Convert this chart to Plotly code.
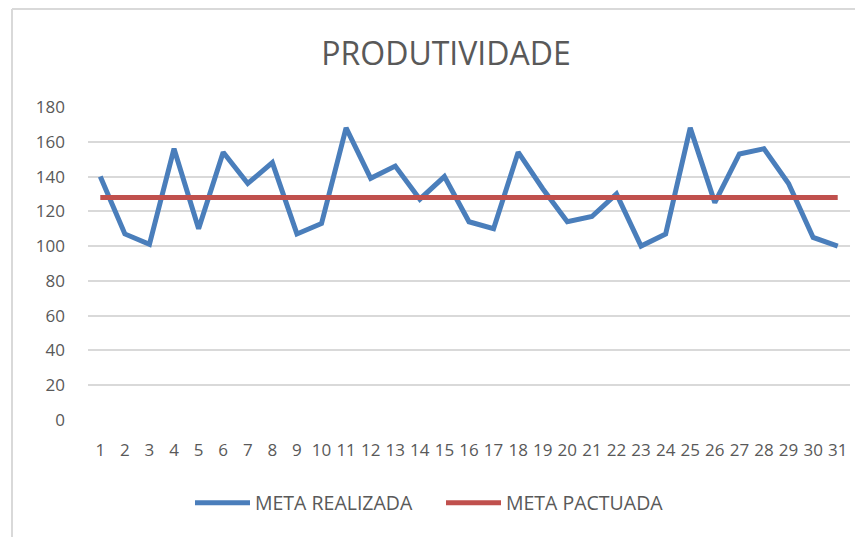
import plotly.graph_objects as go

days = [str(d) for d in range(1, 32)]
meta_realizada = [140, 107, 101, 156, 110, 154, 136, 148, 107, 113, 168, 139, 146, 127, 140, 114,
                  110, 154, 133, 114, 117, 130, 100, 107, 168, 125, 153, 156, 136, 105, 100]
meta_pactuada = [128] * 31
y_ticks = [0, 20, 40, 60, 80, 100, 120, 140, 160, 180]

FONT = "Open Sans"
TXT = "#595959"

W, H = 855, 529
L, T, PW, PH = 80, 99, 762, 313

fig = go.Figure()
fig.add_trace(go.Scatter(x=days, y=meta_realizada, mode="lines", name="META REALIZADA",
                         line=dict(color="#4a7ebb", width=5)))
fig.add_trace(go.Scatter(x=days, y=meta_pactuada, mode="lines", name="META PACTUADA",
                         line=dict(color="#c0504d", width=5)))

fig.update_layout(
    width=W, height=H,
    margin=dict(l=L, r=W - L - PW, t=T, b=H - T - PH, pad=0),
    paper_bgcolor="white", plot_bgcolor="white",
    title=dict(text="PRODUTIVIDADE", x=(446 - 8) / W, xanchor="center", y=1 - 46 / H, yanchor="middle",
               font=dict(family=FONT, size=32, color=TXT)),
    font=dict(family=FONT, color=TXT),
    showlegend=True,
    legend=dict(orientation="h", x=(441 - 8 - L) / PW, xanchor="center", y=-(495 - (T + PH)) / PH,
                yanchor="middle", xref="paper",
                font=dict(family=FONT, size=19.5, color=TXT), itemwidth=55,
                entrywidth=181, traceorder="normal"),
    xaxis=dict(type="category", range=[-0.5, 30.5], showgrid=False, zeroline=False,
               showline=False, tickmode="array", tickvals=days, ticktext=days, tickangle=0,
               tickfont=dict(family=FONT, size=17, color=TXT), ticks="",
               ticklabelstandoff=18),
    yaxis=dict(range=[0, 180], tickvals=y_ticks, showgrid=True, gridcolor="#d9d9d9",
               gridwidth=1.5, zeroline=False, showline=False, ticks="",
               tickfont=dict(family=FONT, size=17, color=TXT), ticklabelstandoff=22),
    shapes=[
        dict(type="line", xref="paper", yref="paper", x0=(4 - L) / PW, x1=(870 - L) / PW,
             y0=(T + PH - 1) / PH, y1=(T + PH - 1) / PH, line=dict(color="#d9d9d9", width=2)),
        dict(type="line", xref="paper", yref="paper", x0=(4 - L) / PW, x1=(4 - L) / PW,
             y0=(T + PH - 1) / PH, y1=(T + PH - 545) / PH, line=dict(color="#d9d9d9", width=2)),
    ],
)

fig.write_html("out.html")
